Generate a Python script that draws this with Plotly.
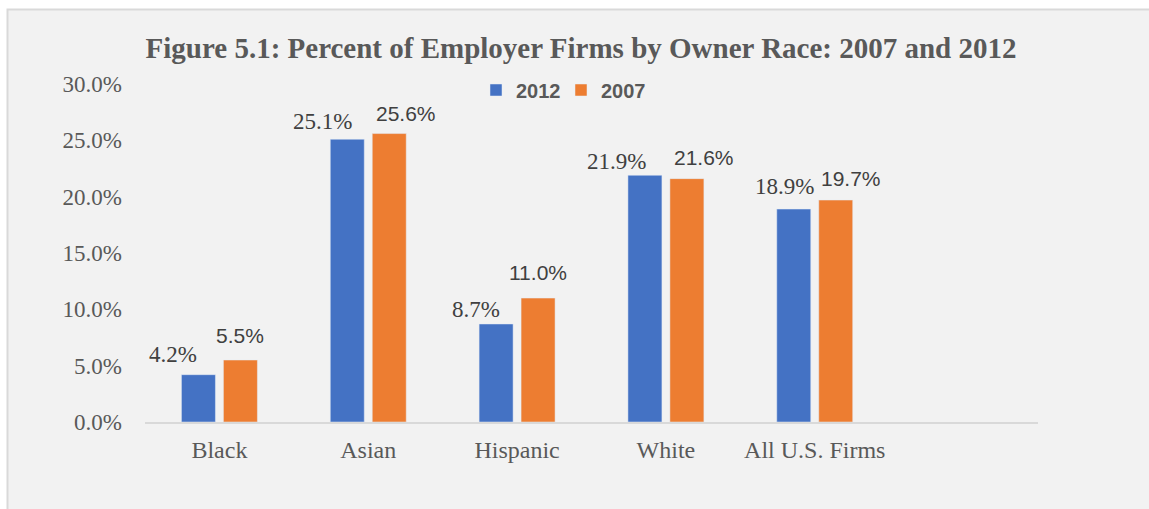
import plotly.graph_objects as go

# Share of employer firms by owner race, in percent
categories = ["Black", "Asian", "Hispanic", "White", "All U.S. Firms"]
share_2012 = [4.2, 25.1, 8.7, 21.9, 18.9]
share_2007 = [5.5, 25.6, 11.0, 21.6, 19.7]
y_ticks = [0, 5, 10, 15, 20, 25, 30]

# Hand-placed nudges for the value labels (pixels)
dx_2012 = [-25, -25, -20, -28, -9]
dy_2012 = [20, 18, 14, 14, 23]
dx_2007 = [0, 17, 0, 17, 15]
dy_2007 = [25, 20, 26, 21, 22]

BLUE = "#4472C4"
ORANGE = "#ED7D31"
SERIF = "Liberation Serif"
SANS = "Liberation Sans"
TEXT = "#595959"
LABEL = "#404040"

x_pos = list(range(len(categories)))

fig = go.Figure()
fig.add_trace(go.Bar(name="2012", x=x_pos, y=share_2012, marker_color=BLUE))
fig.add_trace(go.Bar(name="2007", x=x_pos, y=share_2007, marker_color=ORANGE))

bargap = 0.436
slot = (1 - bargap) / 2

annotations = []
for i, v in enumerate(share_2012):
    annotations.append(dict(
        x=i - slot / 2, y=v, xref="x", yref="y", text=f"{v:.1f}%",
        showarrow=False, xanchor="center", yanchor="middle",
        xshift=dx_2012[i], yshift=dy_2012[i],
        font=dict(family=SERIF, size=23, color=LABEL)))
for i, v in enumerate(share_2007):
    annotations.append(dict(
        x=i + slot / 2, y=v, xref="x", yref="y", text=f"{v:.1f}%",
        showarrow=False, xanchor="center", yanchor="middle",
        xshift=dx_2007[i], yshift=dy_2007[i],
        font=dict(family=SANS, size=21, color=LABEL)))

L, R, T, B = 145, 111, 84, 87
W, H = 1149, 509
pw, ph = W - L - R, H - T - B


def px(x):
    return (x - L) / pw


def py(y):
    return (H - B - y) / ph


shapes = [dict(
    type="rect", xref="paper", yref="paper", layer="below",
    x0=px(7.5), y0=py(9.5), x1=px(1200), y1=py(560),
    fillcolor="#F2F2F2", line=dict(color="#D9D9D9", width=2))]

fig.update_layout(
    width=W, height=H,
    margin=dict(l=L, r=R, t=T, b=B),
    paper_bgcolor="white",
    plot_bgcolor="rgba(0,0,0,0)",
    barmode="group", bargap=bargap, bargroupgap=0.19,
    title=dict(
        text="Figure 5.1: Percent of Employer Firms by Owner Race: 2007 and 2012",
        x=581 / W, xanchor="center", y=1 - 48 / H, yanchor="middle",
        font=dict(family=SERIF, size=29, color=TEXT, weight="bold")),
    legend=dict(
        orientation="h", x=px(561), xanchor="center", y=py(90), yanchor="middle",
        font=dict(family=SANS, size=20, color=TEXT, weight="bold"),
        bgcolor="rgba(0,0,0,0)", itemclick=False, entrywidth=40,
        itemwidth=30),
    xaxis=dict(
        range=[-0.5, 5.5], tickmode="array", tickvals=x_pos, ticktext=categories,
        showgrid=False, zeroline=False, showline=True, linecolor="#D9D9D9",
        linewidth=1.5, ticks="", ticklabelstandoff=5,
        tickfont=dict(family=SERIF, size=24, color=TEXT)),
    yaxis=dict(
        range=[0, 30], tickmode="array", tickvals=y_ticks,
        ticktext=[f"{t:.1f}%" for t in y_ticks],
        showgrid=False, zeroline=False, showline=False, ticks="",
        ticklabelstandoff=22,
        tickfont=dict(family=SERIF, size=23, color=TEXT)),
    annotations=annotations,
    shapes=shapes,
)

fig.write_html("out.html")
